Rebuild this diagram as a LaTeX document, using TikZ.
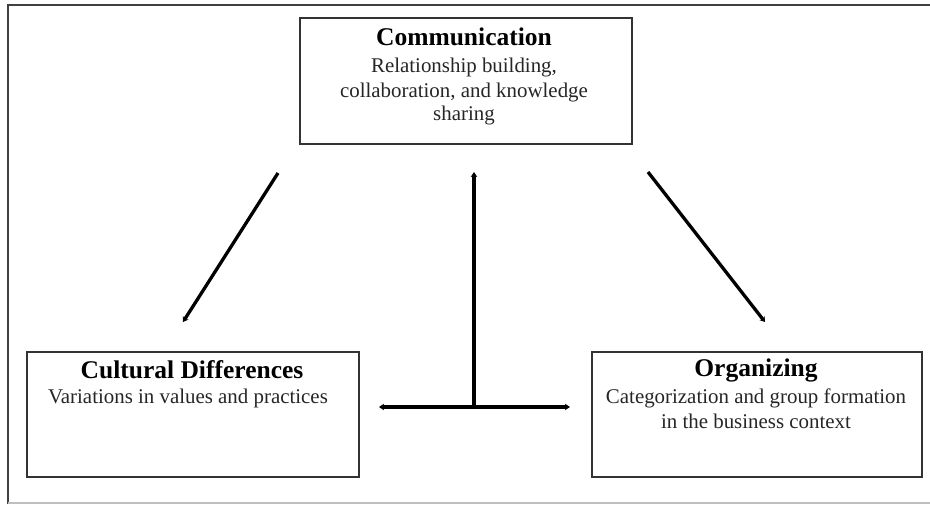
\documentclass[tikz,border=0pt]{standalone}
\usepackage{fontspec}
\setmainfont{Liberation Serif}
\usetikzlibrary{arrows.meta}
\begin{document}
\begin{tikzpicture}[x=1pt,y=-1pt,
  box/.style={draw=black!80,line width=1.3pt,inner sep=0pt,minimum width=#1},
  boxtitle/.style={font=\fontsize{25.5}{25.5}\selectfont\bfseries,text=black,inner sep=0pt,anchor=base},
  boxbody/.style={font=\fontsize{20.9}{24.5}\selectfont,text=black!85,inner sep=0pt,align=center,anchor=base},
  link/.style={line width=3.3pt,black,-{Stealth[length=5pt,width=6.5pt]}},
  framedark/.style={draw=black!75,line width=1.5pt},
  framelight/.style={draw=black!25,line width=1.2pt}
]
% page size
\useasboundingbox (0,0) rectangle (930,504);
\fill[white] (0,0) rectangle (930,504);

% outer frame: dark top and left rules, pale bottom rule
\draw[framedark] (8,504) -- (8,5) -- (930,5);
\draw[framelight] (8,503) -- (930,503);

% the three boxes
\node[box=332pt,minimum height=126pt] (comm) at (466,81) {};
\node[box=332pt,minimum height=125pt] (cult) at (193,414.5) {};
\node[box=330pt,minimum height=125pt] (org) at (757,414.5) {};

% box texts
\node[boxtitle] (commT) at (464,45) {Communication};
\node[boxbody] (commB1) at (464,72) {Relationship building,};
\node[boxbody] (commB2) at (464,97) {collaboration, and knowledge};
\node[boxbody] (commB3) at (464,120) {sharing};

\node[boxtitle] (cultT) at (192,378) {Cultural Differences};
\node[boxbody] (cultB1) at (188,403) {Variations in values and practices};

\node[boxtitle] (orgT) at (756,376) {Organizing};
\node[boxbody] (orgB1) at (756,403) {Categorization and group formation};
\node[boxbody] (orgB2) at (756,428) {in the business context};

% connector end points
\coordinate (lA) at (278,173);
\coordinate (lB) at (183,322);
\coordinate (rA) at (648,172);
\coordinate (rB) at (765,322);
\coordinate (hub) at (474,407);
\coordinate (vTop) at (474,172);
\coordinate (hL) at (379,407);
\coordinate (hR) at (570,407);

% connectors
\draw[link] (lA) -- (lB);
\draw[link] (rA) -- (rB);
\draw[link] (hub) -- (vTop);
\draw[link] (hub) -- (hL);
\draw[link] (hub) -- (hR);
\end{tikzpicture}
\end{document}
